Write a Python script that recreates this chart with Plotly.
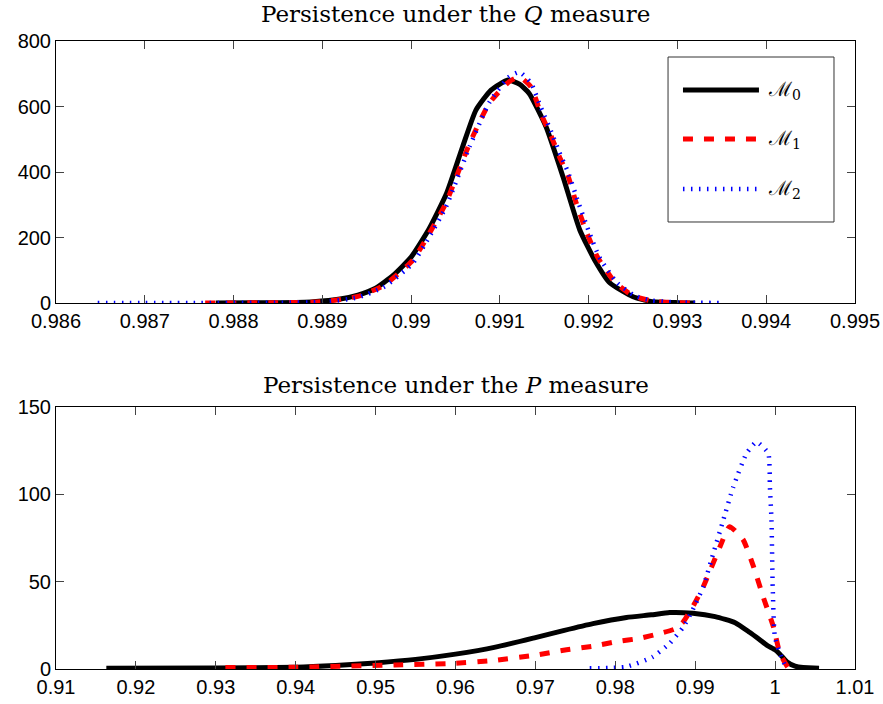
import plotly.graph_objects as go

# ---------------- data: Q measure (top panel) ----------------
q_x0 = [0.9878, 0.9885, 0.9889, 0.9892, 0.9894, 0.9896, 0.9898, 0.9900, 0.9902, 0.9904,
        0.99058, 0.99073, 0.9909, 0.99109, 0.99122, 0.99133, 0.99152, 0.99171, 0.9919,
        0.99207, 0.99224, 0.9925, 0.9927, 0.9930, 0.9932]
q_y0 = [0, 1, 4, 12, 24, 45, 85, 140, 225, 335,
        477, 589, 650, 681, 668, 640, 538, 386, 223,
        130, 61, 19, 5, 1, 0]

q_x1 = [0.98768, 0.9885, 0.9890, 0.9894, 0.9897, 0.99002, 0.9902, 0.99039, 0.99066, 0.99088,
        0.9911, 0.99122, 0.99135, 0.99146, 0.99158, 0.99167, 0.99177, 0.99186, 0.99198, 0.9921,
        0.9923, 0.9925, 0.9927, 0.9929, 0.9932]
q_y1 = [0, 1, 4, 20, 55, 131, 210, 304, 488, 610,
        675, 690, 660, 579, 508, 447, 386, 305, 213, 140,
        62, 22, 7, 2, 0]

q_x2 = [0.98647, 0.9875, 0.9885, 0.9890, 0.9894, 0.9897, 0.99002, 0.9902, 0.99039, 0.99066,
        0.99088, 0.9911, 0.99122, 0.99135, 0.99146, 0.99158, 0.99167, 0.99177, 0.99188, 0.992,
        0.99212, 0.99232, 0.99252, 0.9927, 0.9929, 0.9932, 0.99348]
q_y2 = [0, 0, 1, 3, 17, 50, 122, 200, 292, 478,
        612, 690, 705, 672, 598, 522, 460, 398, 310, 220,
        140, 62, 22, 8, 3, 1, 0]

# ---------------- data: P measure (bottom panel) ----------------
p_x0 = [0.9163, 0.93, 0.94, 0.945, 0.95, 0.955, 0.96, 0.965, 0.97, 0.9735,
        0.9772, 0.9814, 0.9845, 0.9868, 0.9897, 0.9925, 0.995, 0.9968, 0.998, 0.999,
        1.0, 1.0006, 1.0015, 1.0025, 1.0035, 1.0055]
p_y0 = [0.5, 0.6, 1, 2, 3.5, 5.5, 8.5, 12.5, 18, 22,
        26, 29.5, 31, 32.3, 31.9, 30, 26.5, 21, 17, 13.5,
        11, 8.5, 4, 1.6, 0.8, 0.5]

p_x1 = [0.9312, 0.94, 0.9524, 0.9596, 0.965, 0.9701, 0.9739, 0.9772, 0.9801, 0.9831,
        0.9856, 0.9875, 0.9885, 0.9897, 0.991, 0.9931, 0.9943, 0.996, 0.9973, 0.9985,
        0.9998, 1.0006, 1.0017, 1.002]
p_y1 = [0.8, 1, 2.3, 3.2, 5, 8, 11, 13, 15.6, 17.6,
        20.4, 23, 27, 35.7, 47, 70, 81.5, 74, 58.6, 41.4,
        24, 9, 0.4, 0]

p_x2 = [0.9768, 0.9814, 0.9847, 0.9868, 0.9885, 0.9897, 0.991, 0.99225, 0.9935, 0.99475,
        0.99643, 0.99768, 0.99914, 0.99935, 0.99955, 0.9997, 0.99997, 1.0006, 1.0014]
p_y2 = [0.4, 1.3, 7, 14.7, 24, 34, 47, 66, 85, 104,
        123.5, 130, 123.5, 104, 85, 47, 18.5, 9, 0.4]

names = ["ℳ<sub>0</sub>", "ℳ<sub>1</sub>", "ℳ<sub>2</sub>"]
titles = ["Persistence under the <i>Q</i> measure", "Persistence under the <i>P</i> measure"]

styles = [
    dict(color="black", width=5, dash="solid"),
    dict(color="red", width=5, dash="10px,11px"),
    dict(color="#0000ff", width=4.5, dash="1.5px,6.5px"),
]

fig = go.Figure()
top = [(q_x0, q_y0), (q_x1, q_y1), (q_x2, q_y2)]
bot = [(p_x0, p_y0), (p_x1, p_y1), (p_x2, p_y2)]
for i, (x, y) in enumerate(top):
    fig.add_trace(go.Scatter(x=x, y=y, mode="lines", name=names[i], legendgroup=f"g{i}",
                             showlegend=False,
                             line=dict(**styles[i], shape="spline", smoothing=0.5),
                             xaxis="x", yaxis="y"))
for i, (x, y) in enumerate(bot):
    fig.add_trace(go.Scatter(x=x, y=y, mode="lines", name=names[i], legendgroup=f"g{i}",
                             showlegend=False,
                             line=dict(**styles[i], shape="spline", smoothing=0.5),
                             xaxis="x2", yaxis="y2"))

tick_font = dict(family="Liberation Sans, Arial, sans-serif", size=20, color="black")
ax_common = dict(showline=True, linecolor="black", linewidth=1, mirror="ticks",
                 ticks="inside", ticklen=8, tickcolor="#444", showgrid=False,
                 zeroline=False, tickfont=tick_font, automargin=False)

top_dom = [0.5828, 1.0]
bot_dom = [0.0, 0.4172]

# legend box (framed key inside the top panel, MATLAB style)
leg_box = dict(x0=0.766, x1=0.9737, y0=0.7118, y1=0.9745)
leg_line_x = (0.7847, 0.8798)
leg_text_x = 0.8886
leg_rows = [0.922, 0.8439, 0.7643]

shapes = [dict(type="rect", xref="paper", yref="paper", **leg_box,
               line=dict(color="#333", width=1), fillcolor="white", layer="above")]
annotations = []
for i in range(3):
    shapes.append(dict(type="line", xref="paper", yref="paper",
                       x0=leg_line_x[0], x1=leg_line_x[1], y0=leg_rows[i], y1=leg_rows[i],
                       line=styles[i], layer="above"))
    annotations.append(dict(text=names[i], x=leg_text_x, y=leg_rows[i], xref="paper",
                            yref="paper", xanchor="left", yanchor="middle", showarrow=False,
                            font=dict(family="DejaVu Serif, serif", size=20, color="black")))

for t, dom, ys in zip(titles, [top_dom, bot_dom], [12, 7]):
    annotations.append(dict(text=t, x=0.5, y=dom[1], xref="paper", yref="paper",
                            xanchor="center", yanchor="bottom", yshift=ys, showarrow=False,
                            font=dict(family="DejaVu Serif, serif", size=23, color="black")))

fig.update_layout(
    width=883, height=704,
    margin=dict(l=56, r=28, t=41, b=35, autoexpand=False),
    paper_bgcolor="white", plot_bgcolor="white",
    xaxis=dict(domain=[0, 1], range=[0.986, 0.995], tick0=0.986, dtick=0.001,
               anchor="y", **ax_common),
    yaxis=dict(domain=top_dom, range=[0, 800], dtick=200, anchor="x", **ax_common),
    xaxis2=dict(domain=[0, 1], range=[0.91, 1.01], tick0=0.91, dtick=0.01,
                anchor="y2", **ax_common),
    yaxis2=dict(domain=bot_dom, range=[0, 150], dtick=50, anchor="x2", **ax_common),
    showlegend=False,
    shapes=shapes,
    annotations=annotations,
)

fig.write_html("out.html", config={"displayModeBar": False},
               post_script="document.body.style.margin='0';document.body.style.overflow='hidden';")
